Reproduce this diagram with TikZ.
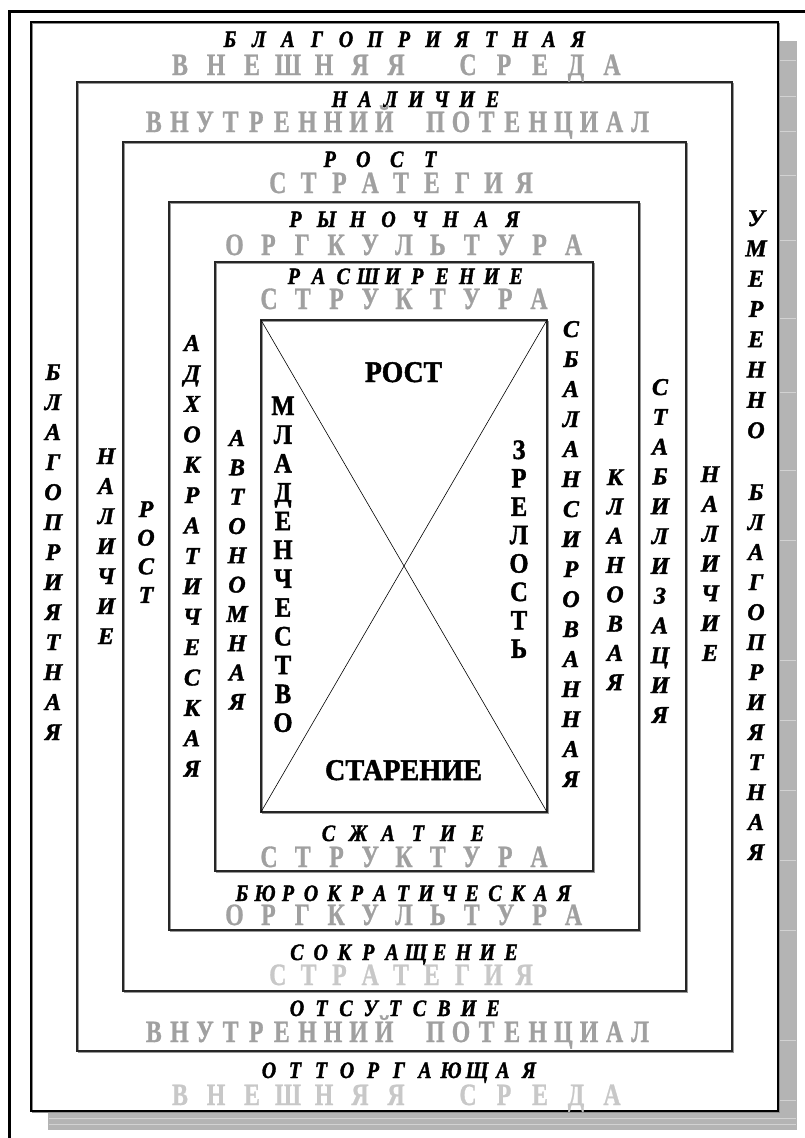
\documentclass[tikz,border=0pt]{standalone}
\usepackage{fontspec}
\usepackage{graphicx}
\newfontfamily\tnr{Liberation Serif}
\newfontfamily\tnrH[FakeBold=1.6]{Liberation Serif}
\newfontfamily\tnrG[FakeBold=1.0]{Liberation Serif}
\definecolor{txtgray}{RGB}{160,160,160}
\definecolor{txtlight}{RGB}{200,200,200}
\definecolor{shadowgray}{RGB}{180,180,180}
\newlength\slotw
\def\lsx{1}
\newcommand\spread[3]{\setlength\slotw{#1}\def\lsx{#2}\spreadaux#3\relax}
\def\spreadaux#1{\ifx#1\relax\else\makebox[\slotw][c]{\scalebox{\lsx}[1]{#1}}\expandafter\spreadaux\fi}
\newcommand\vcol[6][itl]{%
  \foreach \ch [count=\k from 0] in {#6} {%
    \node[#1, anchor=base] (#2\k) at (#3, {#4+\k*#5}) {\ch};
  }}
\newcommand\vcolbig[5]{%
  \foreach \ch [count=\k from 0] in {#5} {%
    \node[bigb, anchor=base] (#1\k) at (#2, {#3+\k*#4}) {\scalebox{0.88}[1]{\ch}};
  }}
\begin{document}
\begin{tikzpicture}[x=1pt,y=-1pt,
  itl/.style={font=\tnrH\bfseries\itshape\fontsize{24}{24}\selectfont, inner sep=0pt, text=black},
  ith/.style={font=\tnrH\bfseries\itshape\fontsize{23.5}{23.5}\selectfont, inner sep=0pt, text=black},
  grt/.style={font=\tnrG\bfseries\fontsize{31}{31}\selectfont, inner sep=0pt, text=txtgray},
  grl/.style={grt, text=txtlight},
  bigb/.style={font=\tnrH\bfseries\fontsize{28}{28}\selectfont, inner sep=0pt, text=black},
  bigh/.style={font=\tnrH\bfseries\fontsize{30}{30}\selectfont, inner sep=0pt, text=black},
  boxline/.style={draw=black!85, line width=1.1pt},
  boxshadow/.style={draw=black!40, line width=1pt},
]
\useasboundingbox (0,0) rectangle (804,1138);
\fill[white] (0,0) rectangle (804,1138);
% outer frame (only top and left visible)
\coordinate (fTR) at (805,11);
\coordinate (fTL) at (9,11);
\coordinate (fBL) at (9,1140);
\draw[line width=3pt] (fBL) -- (fTL) -- (fTR);
% big shadow
\coordinate (sTL) at (48,41);
\coordinate (sBR) at (797,1130);
\fill[shadowgray] (sTL) rectangle (sBR);
\foreach \yy in {60,96,131,175,240,318,392,470,540,660,720,790,860,930,1040,1100}
  \draw[white!40!shadowgray, line width=0.6pt] (779,\yy) -- (796,\yy);
\foreach \yy in {1118,1124}
  \draw[white!40!shadowgray, line width=0.6pt] (49,\yy) -- (796,\yy);
% main box
\coordinate (mTL) at (31,22);
\coordinate (mBR) at (778,1111);
\fill[white] (mTL) rectangle (mBR);
\draw[black!45, line width=1pt] ([shift={(1.5,1.5)}]mTL) rectangle ([shift={(1.5,1.5)}]mBR);
\draw[black, line width=1.6pt] (mTL) rectangle (mBR);
% nested boxes
\foreach \n/\l/\t/\r/\b in {b2/77/82/732/1051, b3/123/142/686/991, b4/169/202/639/930, b5/215/262/593/871, in/261/320/547/812} {
  \coordinate (\n TL) at (\l,\t);
  \coordinate (\n BR) at (\r,\b);
  \draw[boxshadow] ([shift={(1.4,1.4)}]\n TL) rectangle ([shift={(1.4,1.4)}]\n BR);
  \draw[boxline] (\n TL) rectangle (\n BR);
}
% diagonals of inner box
\coordinate (iTL) at (261,320);
\coordinate (iTR) at (547,320);
\coordinate (iBL) at (261,812);
\coordinate (iBR) at (547,812);
\draw[black, line width=0.6pt] (iTL) -- (iBR);
\draw[black, line width=0.6pt] (iTR) -- (iBL);

% ---------- horizontal texts, top ----------
\node[ith, anchor=base] (h1) at (404,47) {\spread{29pt}{0.85}{БЛАГОПРИЯТНАЯ}};
\node[grt, anchor=base] (g1) at (396,75) {\spread{36pt}{0.77}{ВНЕШНЯЯ~СРЕДА}};
\node[ith, anchor=base] (h2) at (416,107) {\spread{25.5pt}{0.85}{НАЛИЧИЕ}};
\node[grt, anchor=base] (g2) at (397,132) {\spread{25.6pt}{0.77}{ВНУТРЕННИЙ~ПОТЕНЦИАЛ}};
\node[ith, anchor=base] (h3) at (380,167) {\spread{33.5pt}{0.85}{РОСТ}};
\node[grt, anchor=base] (g3) at (401,193) {\spread{30.8pt}{0.77}{СТРАТЕГИЯ}};
\node[ith, anchor=base] (h4) at (404,227) {\spread{31pt}{0.85}{РЫНОЧНАЯ}};
\node[grt, anchor=base] (g4) at (404,255) {\spread{33.9pt}{0.77}{ОРГКУЛЬТУРА}};
\node[ith, anchor=base] (h5) at (405,284) {\spread{24.7pt}{0.85}{РАСШИРЕНИЕ}};
\node[grt, anchor=base] (g5) at (404,309) {\spread{33.75pt}{0.77}{СТРУКТУРА}};
% ---------- horizontal texts, bottom ----------
\node[ith, anchor=base] (h6) at (403,841) {\spread{29.8pt}{0.85}{СЖАТИЕ}};
\node[grt, anchor=base] (g6) at (404,867) {\spread{33.75pt}{0.77}{СТРУКТУРА}};
\node[ith, anchor=base] (h7) at (403,901) {\spread{23pt}{0.85}{БЮРОКРАТИЧЕСКАЯ}};
\node[grt, anchor=base] (g7) at (404,925) {\spread{33.9pt}{0.77}{ОРГКУЛЬТУРА}};
\node[ith, anchor=base] (h8) at (404,960) {\spread{23.8pt}{0.85}{СОКРАЩЕНИЕ}};
\node[grl, anchor=base] (g8) at (401,985) {\spread{30.8pt}{0.77}{СТРАТЕГИЯ}};
\node[ith, anchor=base] (h9) at (395,1016) {\spread{24.5pt}{0.85}{ОТСУТСВИЕ}};
\node[grt, anchor=base] (g9) at (397,1042) {\spread{25.6pt}{0.77}{ВНУТРЕННИЙ~ПОТЕНЦИАЛ}};
\node[ith, anchor=base] (h10) at (399,1078) {\spread{26pt}{0.85}{ОТТОРГАЮЩАЯ}};
\node[grl, anchor=base] (g10) at (396,1105) {\spread{36pt}{0.77}{ВНЕШНЯЯ~СРЕДА}};

% ---------- vertical columns, left ----------
\vcol{ca}{53}{380}{30}{Б,Л,А,Г,О,П,Р,И,Я,Т,Н,А,Я}
\vcol{cb}{106}{464}{30}{Н,А,Л,И,Ч,И,Е}
\vcol{cc}{146}{517}{28.6}{Р,О,С,Т}
\vcol{cd}{192}{351}{30.4}{А,Д,Х,О,К,Р,А,Т,И,Ч,Е,С,К,А,Я}
\vcol{ce}{237}{446}{29.3}{А,В,Т,О,Н,О,М,Н,А,Я}
% ---------- vertical columns, right ----------
\vcol{cf}{571}{337}{30}{С,Б,А,Л,А,Н,С,И,Р,О,В,А,Н,Н,А,Я}
\vcol{cg}{615}{485}{29.3}{К,Л,А,Н,О,В,А,Я}
\vcol{ch}{660}{395}{29.8}{С,Т,А,Б,И,Л,И,З,А,Ц,И,Я}
\vcol{ci}{710}{482}{29.8}{Н,А,Л,И,Ч,И,Е}
\vcol{cj}{756}{226}{30.3}{У,М,Е,Р,Е,Н,Н,О}
\vcol{ck}{756}{500}{30}{Б,Л,А,Г,О,П,Р,И,Я,Т,Н,А,Я}

% ---------- inner box ----------
\vcolbig{ml}{283}{415}{28.8}{М,Л,А,Д,Е,Н,Ч,Е,С,Т,В,О}
\vcolbig{zr}{519}{459}{28.4}{З,Р,Е,Л,О,С,Т,Ь}
\node[bigh, anchor=base] (rost) at (403.5,382) {\resizebox{77pt}{\height}{РОСТ}};
\node[bigh, anchor=base] (star) at (403.5,780) {\resizebox{157pt}{\height}{СТАРЕНИЕ}};
\end{tikzpicture}
\end{document}
